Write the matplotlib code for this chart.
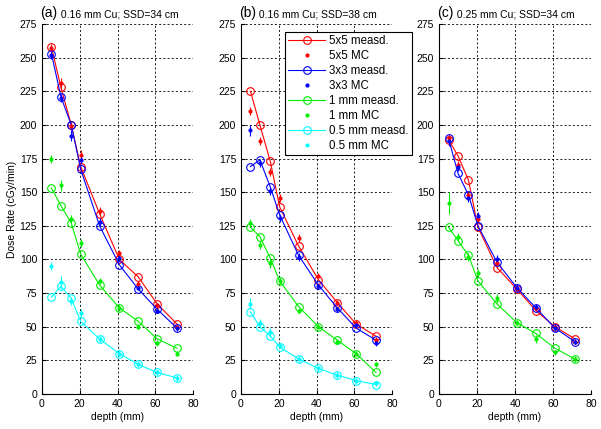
import matplotlib
matplotlib.use('Agg')
import matplotlib.pyplot as plt
from matplotlib.lines import Line2D

plt.rcParams['font.family'] = ['Liberation Sans', 'DejaVu Sans']

DEPTH = [5, 10, 15.5, 20.5, 30.5, 41, 51, 61, 71.5]

TITLES = ['(a)', '(b)', '(c)']
SUBTITLES = [' 0.16 mm Cu; SSD=34 cm', ' 0.16 mm Cu; SSD=38 cm', ' 0.25 mm Cu; SSD=34 cm']

SERIES = ['5x5', '3x3', '1 mm', '0.5 mm']
COLORS = ['#ff0000', '#0000ff', '#00ee00', '#00ffff']

# panel (a)
a_meas = [
    [258, 228, 200, 169, 134, 100, 87, 67, 52],
    [253, 221, 200, 167, 125, 96, 78, 63, 49],
    [153, 140, 127, 104, 81, 64, 54, 41, 34],
    [72, 80, 71, 54, 41, 30, 22, 16, 12],
]
a_mc = [
    [257, 231, 199, 178, 136, 105, 82, 66, 50],
    [252, 220, 192, 174, 128, 101, 79, 62, 49],
    [175, 155, 130, 112, 84, 64, 50, 38, 30],
    [95, 83, 69, 60, 41, 30, 22, 16, 12],
]
a_err = [
    [3, 4, 3, 3, 3, 2, 2, 2, 2],
    [3, 3, 4, 3, 3, 2, 2, 2, 2],
    [3, 4, 3, 3, 2, 2, 2, 2, 2],
    [3, 5, 3, 3, 2, 2, 2, 2, 2],
]

# panel (b)
b_meas = [
    [225, 200, 173, 139, 110, 85, 68, 52, 43],
    [169, 174, 154, 133, 103, 81, 64, 49, 40],
    [124, 117, 101, 84, 65, 50, 40, 30, 16],
    [61, 50, 43, 35, 26, 19, 14, 10, 7],
]
b_mc = [
    [210, 188, 165, 146, 116, 88, 68, 53, 40],
    [196, 172, 151, 131, 102, 80, 63, 51, 38],
    [127, 111, 97, 84, 62, 50, 39, 30, 22],
    [67, 53, 46, 36, 26, 19, 14, 10, 8],
]
b_err = [
    [3, 3, 3, 3, 3, 2, 2, 2, 2],
    [4, 3, 3, 3, 3, 2, 2, 2, 2],
    [3, 3, 3, 2, 2, 2, 2, 2, 2],
    [4, 3, 3, 2, 2, 2, 2, 2, 2],
]

# panel (c)
c_meas = [
    [189, 177, 159, 124, 94, 78, 62, 50, 41],
    [190, 164, 148, 125, 98, 79, 64, 49, 39],
    [124, 114, 103, 84, 67, 53, 45, 34, 26],
]
c_mc = [
    [190, 170, 148, 130, 97, 78, 64, 50, 39],
    [188, 169, 146, 132, 100, 79, 65, 49, 39],
    [142, 117, 102, 90, 71, 53, 41, 31, 26],
]
c_err = [
    [3, 3, 3, 3, 3, 2, 2, 2, 2],
    [4, 3, 3, 3, 3, 3, 2, 2, 2],
    [8, 3, 3, 3, 3, 2, 3, 2, 2],
]

fig = plt.figure(figsize=(6.01, 4.29), dpi=100)

boxes = [
    [42 / 601, 35 / 429, 151 / 601, 370 / 429],
    [241 / 601, 35 / 429, 151 / 601, 370 / 429],
    [439 / 601, 35 / 429, 152 / 601, 370 / 429],
]
panels = [(a_meas, a_mc, a_err), (b_meas, b_mc, b_err), (c_meas, c_mc, c_err)]

for i, (meas, mc, err) in enumerate(panels):
    ax = fig.add_axes(boxes[i])
    for j in range(len(meas)):
        col = COLORS[j]
        ax.plot(DEPTH, meas[j], '-o', color=col, lw=0.8, ms=5.5,
                mfc='none', mew=0.8)
        ax.errorbar(DEPTH, mc[j], yerr=err[j], fmt='.', color=col,
                    ms=4, lw=0.8, capsize=0)
    ax.set_xlim(0, 80)
    ax.set_ylim(0, 275)
    ax.set_xticks([0, 20, 40, 60, 80])
    ax.set_yticks(range(0, 276, 25))
    ax.grid(True, color='black', linestyle=(0, (2.5, 2.5)), linewidth=0.6)
    ax.spines['top'].set_visible(False)
    ax.spines['right'].set_visible(False)
    ax.tick_params(direction='in', length=3, labelsize=7.5, top=False, right=False)
    ax.set_xlabel('depth (mm)', fontsize=7.5, labelpad=2)
    if i == 0:
        ax.set_ylabel('Dose Rate (cGy/min)', fontsize=7.5, labelpad=2)
    t = ax.text(-0.01, 1.01, TITLES[i], transform=ax.transAxes, fontsize=10,
                ha='left', va='bottom')
    ax.annotate(SUBTITLES[i], xy=(1, 0.08), xycoords=t, fontsize=7.5,
                ha='left', va='bottom')

# legend handles: measured as line+circle, MC as a plain dot
handles = []
labels = []
for j, name in enumerate(SERIES):
    handles.append(Line2D([], [], color=COLORS[j], lw=0.8, marker='o', ms=5.5,
                          mfc='none', mew=0.8))
    handles.append(Line2D([], [], color=COLORS[j], lw=0, marker='.', ms=4))
    labels += [name + ' measd.', name + ' MC']

leg = fig.legend(handles, labels, loc='upper left',
                 bbox_to_anchor=(285 / 601, 1 - 32 / 429), fontsize=8.3,
                 fancybox=False, edgecolor='black', framealpha=1,
                 handlelength=3.2, borderpad=0.3, labelspacing=0.25,
                 handletextpad=0.3, borderaxespad=0)
leg.get_frame().set_linewidth(0.8)

fig.savefig('out.png', dpi=100)
